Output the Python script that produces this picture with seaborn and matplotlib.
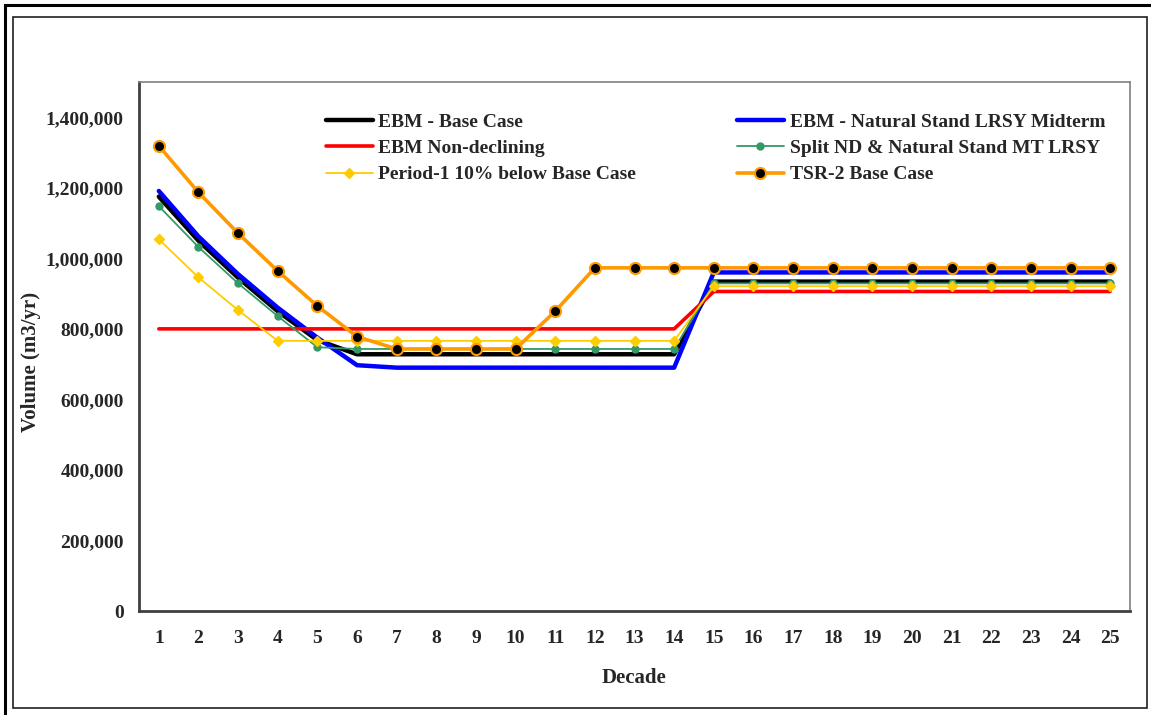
import matplotlib
matplotlib.use("Agg")
import matplotlib.pyplot as plt
from matplotlib.ticker import FuncFormatter, FixedLocator, NullFormatter
from matplotlib.patches import Rectangle
import numpy as np
import pandas as pd
import seaborn as sns

decades = list(range(1, 26))

ebm_base = [1175000, 1050000, 945000, 850000, 768000] + [728000] * 9 + [934000] * 11
ebm_natural = [1191000, 1062000, 955000, 860000, 775000, 697000] + [690000] * 8 + [960000] * 11
ebm_nondeclining = [800000] * 14 + [906000] * 11
split_nd = [1148000, 1032000, 929000, 836000, 748000] + [743000] * 9 + [929000] * 11
period1 = [1054000, 946000, 853000] + [766000] * 11 + [921000] * 11
tsr2 = [1319000, 1187000, 1071000, 964000, 865000, 778000, 743000, 743000, 743000, 743000,
        850000] + [973000] * 14

series_names = [
    "EBM - Base Case",
    "EBM - Natural Stand LRSY Midterm",
    "EBM Non-declining",
    "Split ND & Natural Stand MT LRSY",
    "Period-1 10% below Base Case",
    "TSR-2 Base Case",
]
series_values = [ebm_base, ebm_natural, ebm_nondeclining, split_nd, period1, tsr2]

styles = {
    "EBM - Base Case": dict(color="#000000", lw=3.2, marker=None),
    "EBM - Natural Stand LRSY Midterm": dict(color="#0000FF", lw=3.2, marker=None),
    "EBM Non-declining": dict(color="#FF0000", lw=2.6, marker=None),
    "Split ND & Natural Stand MT LRSY": dict(color="#339966", lw=1.3, marker="o",
                                             ms=5, mfc="#339966", mec="#339966"),
    "Period-1 10% below Base Case": dict(color="#FFCC00", lw=1.3, marker="D",
                                         ms=5.5, mfc="#FFCC00", mec="#FFCC00"),
    "TSR-2 Base Case": dict(color="#FF9900", lw=2.6, marker="o",
                            ms=8, mfc="#000000", mec="#FF9900", mew=1.5),
}

sns.set_style("white")
plt.rcParams["font.family"] = ["Liberation Serif", "DejaVu Serif"]
plt.rcParams["font.weight"] = "bold"

fig = plt.figure(figsize=(11.51, 7.15), dpi=100)
ax = fig.add_axes([139 / 1151, 104 / 715, 991 / 1151, 529 / 715])

handles = {}
for name, vals in zip(series_names, series_values):
    st = styles[name]
    df = pd.DataFrame({"Decade": decades, "Volume": vals})
    kw = dict(color=st["color"], linewidth=st["lw"])
    if st["marker"]:
        kw.update(marker=st["marker"], markersize=st["ms"], markerfacecolor=st["mfc"],
                  markeredgecolor=st["mec"], markeredgewidth=st.get("mew", 1.0))
    sns.lineplot(data=df, x="Decade", y="Volume", ax=ax, label=name, **kw)
    handles[name] = ax.get_lines()[-1]

ax.get_legend().remove()

ax.set_xlim(0.5, 25.5)
ax.set_ylim(0, 1500000)

# y axis
ax.set_yticks(np.arange(0, 1400001, 200000))
ax.yaxis.set_major_formatter(FuncFormatter(lambda v, p: f"{v:,.0f}"))
ax.tick_params(axis="y", which="major", direction="out", length=5, width=1.2,
               color="#404040", pad=6, labelsize=14)

# x axis: ticks between categories, labels at category centres
ax.xaxis.set_major_locator(FixedLocator(np.arange(0.5, 25.6, 1)))
ax.xaxis.set_major_formatter(NullFormatter())
ax.xaxis.set_minor_locator(FixedLocator(decades))
ax.set_xticklabels([str(d) for d in decades], minor=True)
ax.tick_params(axis="x", which="major", direction="out", length=5, width=1.2,
               color="#404040")
ax.tick_params(axis="x", which="minor", length=0, pad=14, labelsize=14)

for side in ["left", "bottom"]:
    ax.spines[side].set_color("#404040")
    ax.spines[side].set_linewidth(2.0)
for side in ["top", "right"]:
    ax.spines[side].set_color("#808080")
    ax.spines[side].set_linewidth(1.2)

ax.set_xlabel("Decade", fontsize=15, fontweight="bold")
ax.set_ylabel("Volume (m3/yr)", fontsize=15, fontweight="bold")
ax.xaxis.set_label_coords(0.5, -0.108)
ax.yaxis.set_label_coords(-0.099, 0.47)

# legend split in two columns
col1 = ["EBM - Base Case", "EBM Non-declining", "Period-1 10% below Base Case"]
col2 = ["EBM - Natural Stand LRSY Midterm", "Split ND & Natural Stand MT LRSY",
        "TSR-2 Base Case"]
leg_kw = dict(loc="upper left", frameon=False, borderpad=0,
              borderaxespad=0, handlelength=2.4, handletextpad=0.3,
              labelspacing=0.45, prop={"weight": "bold", "size": 14})
leg1 = fig.legend([handles[n] for n in col1], col1,
                  bbox_to_anchor=(326 / 1151, 1 - 113 / 715), **leg_kw)
leg2 = fig.legend([handles[n] for n in col2], col2,
                  bbox_to_anchor=(737 / 1151, 1 - 113 / 715), **leg_kw)

# page frame
fig.patches.append(Rectangle((5 / 1151, -0.05), 1.2, 1 - 5 / 715 + 0.05,
                             transform=fig.transFigure, fill=False,
                             edgecolor="black", linewidth=2.2))
fig.patches.append(Rectangle((13 / 1151, 7 / 715), 1134 / 1151, 691 / 715,
                             transform=fig.transFigure, fill=False,
                             edgecolor="#202020", linewidth=1.2))

fig.savefig("out.png", dpi=100)
